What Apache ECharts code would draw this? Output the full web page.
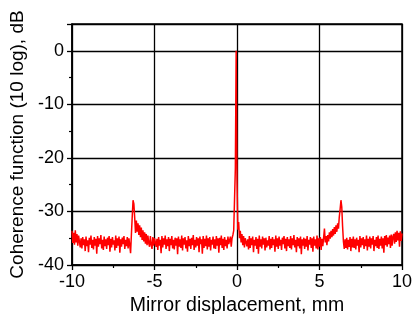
<!DOCTYPE html>
<html><head><meta charset="utf-8">
<script src="https://cdn.jsdelivr.net/npm/echarts@6/dist/echarts.min.js"></script>
<style>html,body{margin:0;padding:0;background:#fff}#c{width:420px;height:314px}</style>
</head><body><div id="c"></div>
<script>
// x grid: start and step (mm)
const xStart = -10;
const xStep = 0.05;
// coherence values (dB), in segments
const yLeftEdge = [-33.6,-35.9,-34.0,-36.2,-33.5,-35.8,-34.2,-36.4,-34.5];
const yLeftFloor = [
-34.6,-36.7,-35.0,-36.9,-34.8,-36.3,-35.2,-37.4,-34.7,-36.5,
-35.4,-37.6,-34.9,-36.2,-34.5,-36.8,-35.3,-37.1,-34.8,-36.4,
-35.1,-37.9,-34.6,-36.6,-35.0,-36.1,-34.4,-36.9,-35.3,-37.2,
-34.7,-36.5,-35.2,-37.0,-34.9,-36.3,-34.6,-37.5,-35.1,-36.7,
-34.8,-36.2,-35.4,-37.3,-34.5,-36.8,-35.0,-36.4,-34.7,-37.7,
-35.2,-36.6,-34.9,-36.1,-34.6,-37.0,-35.3,-36.5,-34.8,-36.9,
-35.0,-36.3];
const yLeftPeak = [
-37.8,-34.3,-31.0,-27.9,-28.6,-31.2,-34.0,-31.7,-33.8,-32.2,
-34.4,-32.6,-34.8,-33.0,-35.3,-33.5,-35.6,-33.9,-36.0,-34.2,
-36.3,-34.5,-35.9,-36.6,-34.6,-36.2,-37.0,-34.8,-36.4,-35.0];
const yMidLeft = [
-34.7,-36.6,-35.1,-37.2,-34.8,-36.4,-35.3,-37.8,-34.6,-36.7,
-35.0,-36.2,-34.5,-37.0,-35.2,-36.5,-34.8,-37.4,-35.1,-36.3,
-34.6,-36.9,-35.3,-37.1,-34.9,-36.4,-35.0,-38.0,-34.7,-36.6,
-35.2,-36.8,-34.5,-37.3,-35.0,-36.2,-34.8,-36.9,-35.4,-37.5,
-34.6,-36.5,-35.1,-37.0,-34.9,-36.3,-34.4,-37.2,-35.3,-36.7,
-34.8,-36.4,-35.0,-37.6,-34.7,-36.1,-35.2,-37.9,-34.6,-36.8,
-35.1,-36.5,-34.5,-37.1,-35.0,-36.6,-34.8,-37.3,-35.3,-36.2,
-34.7,-36.9,-35.2,-37.0,-34.6,-36.4,-35.0,-37.7,-34.9,-36.3,
-34.5,-36.8,-35.1,-37.2,-34.8,-36.5,-35.3,-36.9,-34.7,-36.1];
const yCenterPeak = [
-36.4,-34.7,-36.6,-35.0,-34.4,-33.6,-27.8,-22.0,0.0,-24.0,
-33.4,-32.0,-35.0,-33.6,-35.8,-34.2,-36.3,-34.6,-36.7,-35.0];
const yMidRight = [
-34.9,-36.5,-35.2,-37.1,-34.6,-36.8,-35.0,-36.3,-34.7,-37.6,
-35.3,-36.4,-34.8,-37.0,-35.1,-37.9,-34.5,-36.6,-35.2,-36.9,
-34.7,-36.2,-35.0,-37.3,-34.9,-36.7,-35.4,-36.4,-34.6,-37.1,
-35.1,-36.8,-34.8,-36.3,-35.2,-37.5,-34.5,-36.6,-35.0,-37.0,
-34.7,-36.4,-35.3,-37.2,-34.9,-36.1,-34.6,-36.9,-35.1,-37.4,
-34.8,-36.5,-35.2,-36.8,-34.6,-37.1,-35.0,-36.3,-34.4,-36.7,
-35.3,-37.6,-34.8,-36.5,-35.0,-36.9,-34.7,-38.0,-35.2,-36.4,
-34.9,-37.0,-35.1,-36.6,-34.6,-37.3,-35.3,-36.2,-34.8,-36.8,
-35.0,-37.5,-34.7,-36.4,-35.2,-36.9,-34.5,-37.1,-35.0,-36.6,
-34.8,-37.2,-35.1,-36.5,-34.9];
const yRightPeak = [
-33.2,-35.8,-34.6,-36.3,-34.4,-35.6,-33.9,-35.1,-33.6,-34.8,
-33.3,-34.5,-32.9,-34.2,-32.6,-33.8,-32.2,-33.2,-31.0,-29.6,
-27.9,-29.2,-32.8,-35.6,-37.0,-35.2,-36.8,-34.9,-37.1,-35.3,
-36.6,-34.8,-37.4,-35.1,-36.7];
const yRightFloor = [
-34.7,-36.8,-35.2,-37.1,-34.9,-36.4,-35.3,-37.6,-34.6,-36.7,
-35.0,-36.3,-34.8,-37.0,-35.2,-36.5,-34.5,-37.3,-35.1,-36.6,
-34.7,-36.9,-35.0,-36.2,-34.6,-37.4,-35.3,-36.5,-34.8,-36.8,
-34.5,-37.0,-35.1,-36.4,-34.7,-36.9,-35.0,-37.7,-34.6,-36.3,
-34.4,-36.6,-34.9,-36.1,-34.5,-36.8,-34.3,-36.4,-34.7];
const yRightEdge = [-34.2,-36.0,-33.9,-35.7,-33.6,-35.4,-34.0,-36.6,-33.7,-35.5,-34.1];

const yValues = [].concat(yLeftEdge, yLeftFloor, yLeftPeak, yMidLeft, yCenterPeak,
  yMidRight, yRightPeak, yRightFloor, yRightEdge);
const data = yValues.map((v, i) => [+(xStart + i * xStep).toFixed(2), v]);

const xTicks = [-10, -5, 0, 5, 10];
const yTicks = [-40, -30, -20, -10, 0];
const xTitle = 'Mirror displacement, mm';
const yTitle = 'Coherence function (10 log), dB';

const FONT = 'Liberation Sans, Arial, sans-serif';
const chart = echarts.init(document.getElementById('c'), null, {renderer: 'canvas'});
chart.setOption({
  animation: false,
  backgroundColor: '#fff',
  grid: {left: 72, right: 18, top: 24, bottom: 49, containLabel: false, outerBoundsMode: 'none',
    show: true, borderColor: '#000', borderWidth: 1.5, backgroundColor: 'transparent'},
  xAxis: {
    type: 'value', min: -10, max: 10, interval: 5,
    name: xTitle, nameLocation: 'middle', nameGap: 26,
    nameTextStyle: {fontFamily: FONT, fontSize: 19.5, color: '#000'},
    axisLine: {show: true, onZero: false, lineStyle: {color: '#000', width: 1.5}},
    axisTick: {show: true, inside: false, length: 5, lineStyle: {color: '#000', width: 1.3}},
    minorTick: {show: true, splitNumber: 2, length: 3, lineStyle: {color: '#000', width: 1.2}},
    splitLine: {show: true, lineStyle: {color: '#000', width: 1.3}},
    axisLabel: {fontFamily: FONT, fontSize: 18, color: '#000', margin: 8,
      formatter: v => xTicks.includes(v) ? String(v) : ''}
  },
  yAxis: {
    type: 'value', min: -40, max: 5, interval: 10,
    name: yTitle, nameLocation: 'middle', nameGap: 45,
    nameTextStyle: {fontFamily: FONT, fontSize: 19, color: '#000'},
    axisLine: {show: true, onZero: false, lineStyle: {color: '#000', width: 1.5}},
    axisTick: {show: true, inside: false, length: 5, lineStyle: {color: '#000', width: 1.3}},
    minorTick: {show: true, splitNumber: 2, length: 3, lineStyle: {color: '#000', width: 1.2}},
    splitLine: {show: true, lineStyle: {color: '#000', width: 1.3}},
    axisLabel: {fontFamily: FONT, fontSize: 18, color: '#000', margin: 8,
      formatter: v => yTicks.includes(v) ? String(v) : ''}
  },
  series: [{
    type: 'line', data: data, showSymbol: false, symbol: 'none',
    lineStyle: {color: '#ff0000', width: 1.5}, z: 5
  }]
});
</script></body></html>
